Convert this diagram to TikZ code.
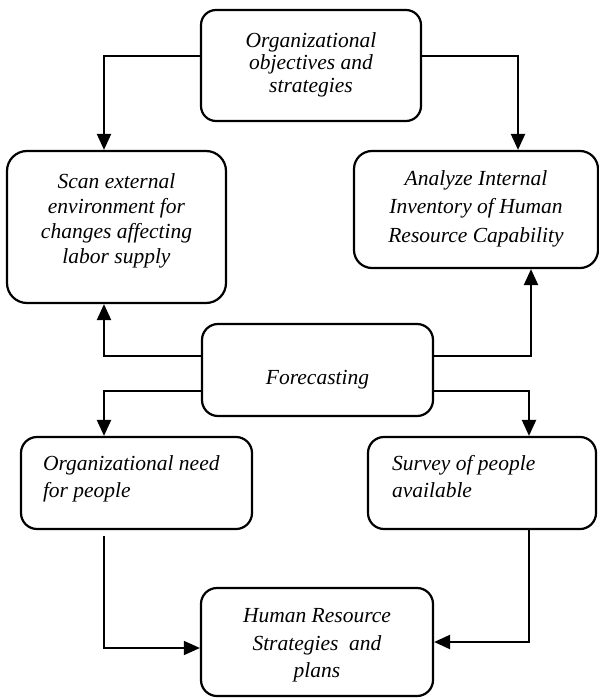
\documentclass[tikz,border=0pt]{standalone}
\usepackage{fontspec}
\setmainfont{Liberation Serif}
\usetikzlibrary{arrows.meta}
\newcommand\boxtext[4]{\fontsize{21.5}{#2}\selectfont\itshape\raisebox{#1}[\height][\depth]{\begin{tabular}{@{}#3@{}}#4\end{tabular}}}
\newcommand\lefttext[4]{\fontsize{21.5}{#2}\selectfont\itshape\raisebox{#1}[\height][\depth]{\begin{tabular}{@{}p{#3}@{}}#4\end{tabular}}}
\tikzset{
  rbox/.style={draw, line width=2.2pt, inner sep=0pt, minimum width=#1},
  arr/.style={-{Triangle[length=16pt,width=14pt]}, line width=2.2pt},
  thinarr/.style={-{Triangle[length=16pt,width=14pt]}, line width=1.4pt}
}
\begin{document}
\begin{tikzpicture}[x=1pt,y=-1pt]
\useasboundingbox (0,0) rectangle (599,698);
\node[rbox=220pt, minimum height=111pt, rounded corners=15pt] (top) at (311,65.5)
  {\boxtext{0pt}{22.5}{c}{Organizational\\objectives and\\strategies}};
\node[rbox=219pt, minimum height=152pt, rounded corners=20pt] (scan) at (116.5,227)
  {\boxtext{6pt}{25}{c}{Scan external\\environment for\\changes affecting\\labor supply}};
\node[rbox=244pt, minimum height=117pt, rounded corners=18pt] (analyze) at (476,209.5)
  {\boxtext{1.5pt}{28.5}{c}{Analyze Internal\\Inventory of Human\\Resource Capability}};
\node[rbox=231pt, minimum height=92pt, rounded corners=16pt] (fc) at (317.5,370)
  {\boxtext{-9pt}{25}{c}{Forecasting}};
\node[rbox=231pt, minimum height=92pt, rounded corners=16pt] (need) at (136.5,483)
  {\hspace*{22pt}\lefttext{4.5pt}{27}{209pt}{Organizational need\\for people}};
\node[rbox=228pt, minimum height=92pt, rounded corners=16pt] (survey) at (482,483)
  {\hspace*{24pt}\lefttext{4.5pt}{27}{204pt}{Survey of people\\available}};
\node[rbox=232pt, minimum height=108pt, rounded corners=16pt] (hr) at (317,642)
  {\boxtext{-2.5pt}{27.5}{c}{Human Resource\\Strategies~ and\\plans}};
% connectors
\draw[arr] ([yshift=9.5pt]top.west) -| ([xshift=-12.5pt]scan.north);
\draw[arr] ([yshift=9.5pt]top.east) -| ([xshift=42pt]analyze.north);
\draw[arr] ([yshift=14pt]fc.west) -| ([xshift=-12.5pt]scan.south);
\draw[arr] ([yshift=14pt]fc.east) -| ([xshift=55pt]analyze.south);
\draw[arr] ([yshift=-21pt]fc.west) -| ([xshift=-32.5pt]need.north);
\draw[arr] ([yshift=-21pt]fc.east) -| ([xshift=47pt]survey.north);
\draw[thinarr] ([xshift=-32.5pt,yshift=-6pt]need.south) |- ([yshift=-6pt]hr.west);
\draw[arr] ([xshift=47pt]survey.south) |- (hr.east);
\end{tikzpicture}
\end{document}
